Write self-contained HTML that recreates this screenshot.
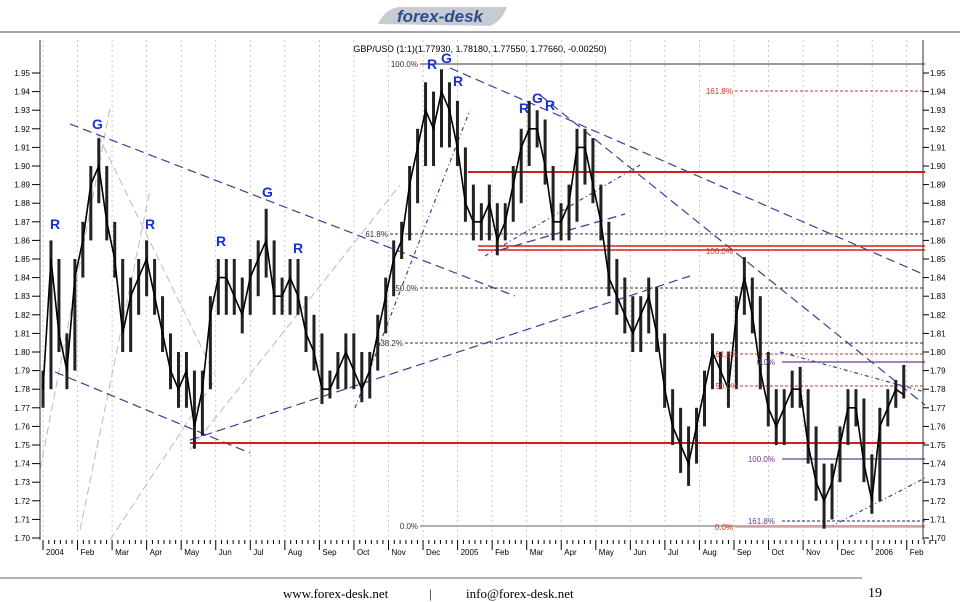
<!DOCTYPE html>
<html><head><meta charset="utf-8">
<style>
body{margin:0;background:#fff;width:960px;height:602px;overflow:hidden;font-family:"Liberation Sans",sans-serif}
svg{position:absolute;left:0;top:0}
</style></head>
<body>
<svg id="c" width="960" height="602" viewBox="0 0 960 602" xmlns="http://www.w3.org/2000/svg">
<g>
<path d="M378 24 Q386 7 402 7 L507 7 Q502 21 490 26 Z" fill="#c8cbd2"/>
<text x="440" y="22" text-anchor="middle" font-size="17" font-weight="bold" font-style="italic" fill="#2a4f8f" font-family="Liberation Sans, sans-serif">forex-desk</text>
</g>
<line x1="0" y1="32" x2="960" y2="32" stroke="#888" stroke-width="1.5"/>
<text x="480" y="52" text-anchor="middle" font-size="9" fill="#000">GBP/USD (1:1)(1.77930, 1.78180, 1.77550, 1.77660, -0.00250)</text>
<line x1="0" y1="578" x2="862" y2="578" stroke="#999" stroke-width="1.5"/>
<text x="283" y="598" font-size="13" font-family="Liberation Serif, serif">www.forex-desk.net</text>
<text x="429" y="598" font-size="13" font-family="Liberation Serif, serif">|</text>
<text x="466" y="598" font-size="13" font-family="Liberation Serif, serif">info@forex-desk.net</text>
<text x="868" y="597" font-size="14" font-family="Liberation Serif, serif">19</text>
<g id="grid"></g><g id="annot"></g><g id="bars"></g><g id="labels"></g><g id="axes"></g>
</svg>
<script>
const months=["2004","Feb","Mar","Apr","May","Jun","Jul","Aug","Sep","Oct","Nov","Dec","2005","Feb","Mar","Apr","May","Jun","Jul","Aug","Sep","Oct","Nov","Dec","2006","Feb"];
const yTicks=[1.70,1.71,1.72,1.73,1.74,1.75,1.76,1.77,1.78,1.79,1.80,1.81,1.82,1.83,1.84,1.85,1.86,1.87,1.88,1.89,1.90,1.91,1.92,1.93,1.94,1.95];
const closes=[1.78,1.85,1.81,1.79,1.84,1.86,1.89,1.90,1.87,1.85,1.81,1.83,1.84,1.85,1.83,1.81,1.79,1.78,1.79,1.76,1.78,1.82,1.84,1.84,1.83,1.82,1.84,1.85,1.86,1.83,1.83,1.84,1.83,1.81,1.80,1.78,1.78,1.79,1.80,1.79,1.78,1.79,1.81,1.83,1.85,1.86,1.89,1.91,1.93,1.92,1.94,1.93,1.91,1.88,1.87,1.87,1.88,1.86,1.87,1.89,1.91,1.92,1.92,1.90,1.87,1.87,1.88,1.91,1.91,1.89,1.87,1.84,1.83,1.82,1.81,1.82,1.83,1.81,1.78,1.76,1.75,1.74,1.76,1.78,1.80,1.79,1.78,1.82,1.84,1.82,1.79,1.77,1.76,1.77,1.78,1.78,1.75,1.73,1.72,1.73,1.75,1.77,1.77,1.74,1.72,1.76,1.77,1.78,1.777];
const highs=[1.79,1.86,1.85,1.81,1.85,1.87,1.90,1.915,1.90,1.87,1.85,1.84,1.85,1.86,1.85,1.83,1.81,1.80,1.80,1.79,1.79,1.83,1.85,1.85,1.85,1.84,1.85,1.86,1.877,1.86,1.84,1.85,1.85,1.83,1.82,1.81,1.79,1.80,1.81,1.81,1.80,1.80,1.82,1.84,1.86,1.87,1.90,1.92,1.945,1.94,1.952,1.945,1.935,1.91,1.89,1.88,1.89,1.88,1.88,1.90,1.92,1.935,1.93,1.925,1.90,1.88,1.89,1.92,1.92,1.915,1.89,1.87,1.85,1.84,1.83,1.83,1.84,1.835,1.81,1.78,1.77,1.76,1.77,1.79,1.81,1.80,1.80,1.83,1.851,1.84,1.83,1.80,1.78,1.78,1.79,1.792,1.78,1.76,1.74,1.74,1.76,1.78,1.78,1.775,1.745,1.77,1.78,1.785,1.793];
const lows=[1.77,1.78,1.80,1.78,1.79,1.84,1.86,1.88,1.86,1.84,1.80,1.80,1.82,1.83,1.82,1.80,1.78,1.77,1.77,1.748,1.755,1.78,1.82,1.82,1.82,1.81,1.82,1.83,1.84,1.82,1.82,1.82,1.82,1.80,1.79,1.772,1.775,1.78,1.78,1.78,1.773,1.775,1.79,1.81,1.83,1.85,1.86,1.88,1.90,1.90,1.91,1.91,1.90,1.87,1.86,1.86,1.86,1.852,1.86,1.87,1.88,1.90,1.91,1.89,1.86,1.86,1.86,1.87,1.89,1.88,1.86,1.83,1.82,1.81,1.80,1.80,1.81,1.80,1.77,1.75,1.735,1.728,1.74,1.76,1.78,1.78,1.77,1.78,1.82,1.81,1.78,1.76,1.75,1.75,1.77,1.77,1.74,1.72,1.705,1.71,1.73,1.75,1.76,1.73,1.713,1.72,1.76,1.77,1.775];

const NS="http://www.w3.org/2000/svg";
const X0=40,X1=923,Y0=40,Y1=540;
function yS(p){return 73+(1.95-p)*1860;}
function xW(w){return 43+w*7.97;}
function xM(m){return 43+m*34.55;}
function mk(parent,tag,attrs){const e=document.createElementNS(NS,tag);for(const k in attrs)e.setAttribute(k,attrs[k]);document.getElementById(parent).appendChild(e);return e;}

months.forEach((m,i)=>{
  const gl=mk('grid','line',{x1:xM(i),y1:Y0,x2:xM(i),y2:Y1,stroke:'#bbb','stroke-dasharray':'2,3','stroke-width':0.8});
  
  
  const t=mk('axes','text',{x:xM(i)+3,y:555,'font-size':8,fill:'#000'});
  t.textContent=m;
  
  
  const tk=mk('axes','line',{x1:xM(i),y1:Y1,x2:xM(i),y2:Y1+10,stroke:'#000'});
  
  
  for(let d=1;d<6;d++){const mt=mk('axes','line',{x1:xM(i)+d*5.8,y1:Y1,x2:xM(i)+d*5.8,y2:Y1+4,stroke:'#000'});
  
  }
});
const la=mk('axes','line',{x1:X0,y1:Y0,x2:X0,y2:Y1,stroke:'#333'});


const ra=mk('axes','line',{x1:X1,y1:Y0,x2:X1,y2:Y1,stroke:'#333'});


yTicks.forEach(v=>{
  const y=yS(v);
  const a=mk('axes','text',{x:30,y:y+3,'font-size':8,'text-anchor':'end'});a.textContent=v.toFixed(2);
  
  
  const b=mk('axes','text',{x:930,y:y+3,'font-size':8}); b.textContent=v.toFixed(2);
  
  
  const t1=mk('axes','line',{x1:32,y1:y,x2:X0,y2:y,stroke:'#000'});
  
  
  const t2=mk('axes','line',{x1:X1,y1:y,x2:X1+6,y2:y,stroke:'#000'});
  
  
});

function L(x1,y1,x2,y2,col,w,dash,name){const e=mk('annot','line',{x1,y1,x2,y2,stroke:col,'stroke-width':w});if(dash)e.setAttribute('stroke-dasharray',dash);

}
function T(x,y,s,col,size,bold,name,anchor){const e=mk('labels','text',{x,y,'font-size':size,fill:col});if(bold)e.setAttribute('font-weight','bold');if(anchor)e.setAttribute('text-anchor',anchor);e.textContent=s;

}
const blue='#3a3f9a',gray='#bbb';
L(40,470,110,108,gray,1,'8,4','gray-fan-line');L(80,530,150,190,gray,1,'8,4','gray-fan-line');
L(110,540,215,380,gray,1,'8,4','gray-fan-line');L(190,450,400,185,gray,1,'8,4','gray-fan-line');
L(98,135,215,375,gray,1,'8,4','gray-fan-line');
L(70,124,515,296,blue,1.2,'9,5','upper-channel-line');
L(55,372,250,453,blue,1.2,'9,5','lower-channel-line');
L(190,440,690,276,blue,1.2,'9,5','long-support-line');
L(450,68,925,275,blue,1.2,'9,5','major-downtrend-line');
L(540,95,925,405,blue,1.2,'9,5','secondary-downtrend-line');
L(355,408,470,110,blue,1.2,'4,3,1,3','fan-line');
L(485,256,640,165,blue,1.2,'4,3,1,3','fan-line');
L(500,250,625,214,blue,1.2,'9,5','support-line');
L(780,352,925,392,blue,1.2,'4,3,1,3','dashdot-line');
L(830,527,925,478,blue,1.2,'4,3,1,3','dashdot-line');
L(420,64,925,64,'#333',1,null,'fib-100-line');T(418,67,'100.0%','#333',8,false,'fib-100-label','end');
L(390,234,925,234,'#333',1,'3,2','fib-618-line');T(388,237,'61.8%','#333',8,false,'fib-618-label','end');
L(420,288,925,288,'#333',1,'3,2','fib-50-line');T(418,291,'50.0%','#333',8,false,'fib-50-label','end');
L(405,343,925,343,'#333',1,'3,2','fib-382-line');T(403,346,'38.2%','#333',8,false,'fib-382-label','end');
L(420,526,925,526,'#999',1.5,null,'fib-0-line');T(418,529,'0.0%','#333',8,false,'fib-0-label','end');
const red='#d0201a';
L(468,172,925,172,red,2,null,'resistance-1896');
L(478,246,925,246,red,1.5,null,'resistance-185a');L(478,250,925,250,red,1.5,null,'resistance-185b');
L(190,443,925,443,red,2,null,'support-1751');
const rf='#c0392b';
L(735,91,925,91,rf,1,'3,2','fib2-1618-line');T(733,94,'161.8%',rf,8,false,'fib2-1618-label','end');
T(733,254,'100.0%',rf,8,false,'fib2-100-label','end');
L(740,354,925,354,rf,1,'3,2','fib2-618-line');T(738,357,'61.8%',rf,8,false,'fib2-618-label','end');
L(740,386,925,386,rf,1,'3,2','fib2-50-line');T(738,389,'50.0%',rf,8,false,'fib2-50-label','end');
L(735,527,925,527,'#e8a0a0',1.5,null,'fib2-0-line');T(733,530,'0.0%',rf,8,false,'fib2-0-label','end');
const pu='#6a3d8a';
L(782,362,925,362,pu,1.2,null,'fib3-0-line');T(775,365,'0.0%',pu,8,false,'fib3-0-label','end');
L(782,459,925,459,pu,1.2,null,'fib3-100-line');T(775,462,'100.0%',pu,8,false,'fib3-100-label','end');
L(782,521,925,521,pu,1.2,'3,2','fib3-1618-line');T(775,524,'161.8%',pu,8,false,'fib3-1618-label','end');

const n=Math.min(closes.length,highs.length,lows.length);
let pts=[];
for(let i=0;i<n;i++){
  const x=xW(i);
  const r=mk('bars','rect',{x:x-1.5,y:yS(highs[i]),width:3,height:Math.max(1,yS(lows[i])-yS(highs[i])),fill:'#222'});
  
  
  pts.push(x+','+yS(closes[i]));
}
const pl=mk('bars','polyline',{points:pts.join(' '),fill:'none',stroke:'#000','stroke-width':1.6});



const rg=[["R",50,229],["G",92,129],["R",145,229],["R",216,246],["G",262,197],["R",293,253],["R",427,69],["G",441,63],["R",453,86],["R",519,113],["G",532,103],["R",545,110]];
rg.forEach(a=>T(a[1],a[2],a[0],'#1a2fd0',14,true,'pattern-marker-'+a[0].toLowerCase()));
</script>
</body></html>
